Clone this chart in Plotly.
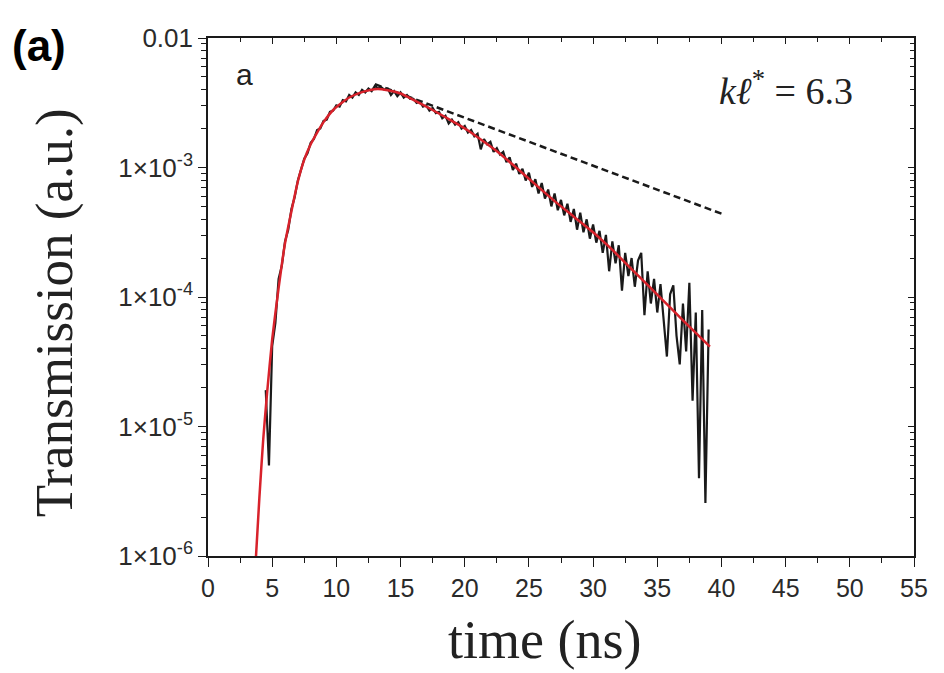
import plotly.graph_objects as go
import numpy as np

# Datos medidos (trazo negro con ruido), paso de 0.25 ns desde 4.5 ns
trans_data = [
    1.91e-5, 5.0e-6, 4.17e-5, 6.31e-5, 1.38e-4, 1.74e-4, 2.69e-4, 3.31e-4,
    4.79e-4, 5.89e-4, 7.94e-4, 9.77e-4, 1.17e-3, 1.29e-3, 1.55e-3, 1.66e-3,
    1.95e-3, 2.00e-3, 2.29e-3, 2.34e-3, 2.69e-3, 2.75e-3, 3.02e-3, 2.95e-3,
    3.31e-3, 3.24e-3, 3.63e-3, 3.47e-3, 3.80e-3, 3.63e-3, 3.98e-3, 3.80e-3,
    4.07e-3, 3.89e-3, 4.27e-3, 4.07e-3, 4.17e-3, 3.98e-3, 4.07e-3, 3.63e-3,
    3.89e-3, 3.55e-3, 3.80e-3, 3.47e-3, 3.63e-3, 3.39e-3, 3.39e-3, 3.16e-3,
    3.24e-3, 2.95e-3, 3.02e-3, 2.75e-3, 2.88e-3, 2.63e-3, 2.69e-3, 2.40e-3,
    2.51e-3, 2.19e-3, 2.34e-3, 2.14e-3, 2.24e-3, 2.00e-3, 2.09e-3, 1.86e-3,
    1.95e-3, 1.74e-3, 1.82e-3, 1.38e-3, 1.66e-3, 1.51e-3, 1.58e-3, 1.32e-3,
    1.41e-3, 1.26e-3, 1.32e-3, 1.10e-3, 1.20e-3, 9.55e-4, 1.07e-3, 8.91e-4,
    9.77e-4, 7.94e-4, 9.12e-4, 7.08e-4, 8.13e-4, 6.31e-4, 7.59e-4, 5.75e-4,
    6.76e-4, 5.01e-4, 6.31e-4, 4.68e-4, 5.62e-4, 4.27e-4, 5.25e-4, 3.80e-4,
    4.79e-4, 3.31e-4, 4.47e-4, 3.16e-4, 3.98e-4, 2.82e-4, 3.63e-4, 2.63e-4,
    3.24e-4, 2.19e-4, 3.02e-4, 1.58e-4, 2.69e-4, 1.82e-4, 2.51e-4, 1.12e-4,
    2.19e-4, 1.45e-4, 2.00e-4, 1.20e-4, 1.91e-4, 2.19e-4, 7.24e-5, 1.58e-4,
    8.91e-5, 1.38e-4, 7.59e-5, 1.26e-4, 6.31e-5, 3.47e-5, 1.05e-4, 1.23e-4,
    5.01e-5, 3.02e-5, 8.91e-5, 3.80e-5, 1.29e-4, 1.58e-5, 7.59e-5, 3.98e-6,
    7.94e-5, 2.57e-6, 5.62e-5,
]
t_data = 4.5 + 0.25 * np.arange(len(trans_data))

# Curva de ajuste (roja)
t_fit = [3.74, 4.0, 4.3, 4.6, 5.0, 5.5, 6.0, 6.5, 7.0, 7.5, 8.0, 8.5, 9.0,
         9.75, 10.5, 11.0, 12.0, 13.2, 14.0, 15.0, 16.0, 17.5, 19.0, 20.2,
         21.5, 22.7, 24.0, 25.5, 27.0, 28.5, 30.0, 31.5, 33.0, 34.5, 36.0,
         37.5, 39.1]
trans_fit = [1.0e-6, 2.8e-6, 7.9e-6, 1.8e-5, 4.7e-5, 1.17e-4, 2.6e-4, 4.6e-4,
             7.8e-4, 1.15e-3, 1.51e-3, 1.86e-3, 2.24e-3, 2.78e-3, 3.2e-3,
             3.47e-3, 3.82e-3, 4.04e-3, 3.95e-3, 3.73e-3, 3.33e-3, 2.78e-3,
             2.29e-3, 1.95e-3, 1.58e-3, 1.29e-3, 1.0e-3, 7.4e-4, 5.5e-4,
             4.17e-4, 3.16e-4, 2.31e-4, 1.64e-4, 1.17e-4, 8.3e-5, 5.9e-5,
             4.13e-5]

# Recta de difusión (discontinua)
t_dash = [13.0, 40.0]
trans_dash = [4.4e-3, 4.4e-4]

x_ticks = list(range(0, 56, 5))
y_ticks = [1e-6, 1e-5, 1e-4, 1e-3, 1e-2]
y_ticktext = ["1×10<sup>-6</sup>", "1×10<sup>-5</sup>", "1×10<sup>-4</sup>",
              "1×10<sup>-3</sup>", "0.01"]

fig = go.Figure()

fig.add_trace(go.Scatter(
    x=t_data, y=trans_data, mode="lines",
    line=dict(color="#1a1a1a", width=2.2),
    showlegend=False, hoverinfo="skip"
))

fig.add_trace(go.Scatter(
    x=t_dash, y=trans_dash, mode="lines",
    line=dict(color="#1a1a1a", width=2.5, dash="7px,4px"),
    showlegend=False
))

fig.add_trace(go.Scatter(
    x=t_fit, y=trans_fit, mode="lines",
    line=dict(color="#d8222b", width=2.5, shape="spline", smoothing=0.6),
    showlegend=False
))

# Ejes espejo (arriba y derecha) con marcas hacia dentro
fig.add_trace(go.Scatter(x=[None], y=[None], xaxis="x2", yaxis="y2",
                         showlegend=False, hoverinfo="skip"))

tick_font = dict(family="Liberation Sans, Arial", size=25, color="#2a2a2a")
axis_common = dict(showgrid=False, zeroline=False, showline=True,
                   linecolor="#1a1a1a", linewidth=1.6, tickcolor="#1a1a1a",
                   tickwidth=1.4)

# la página añade 8 px de margen al cuerpo: figura 936x665
fig.update_layout(
    width=936, height=665,
    margin=dict(l=200, r=30, t=30, b=117, autoexpand=False),
    paper_bgcolor="white", plot_bgcolor="white",
    xaxis=dict(range=[0, 55], tickvals=x_ticks, ticks="outside", ticklen=9,
               tickfont=tick_font,
               minor=dict(dtick=2.5, ticks="outside", ticklen=5,
                          tickcolor="#1a1a1a", tickwidth=1.2),
               **axis_common),
    yaxis=dict(type="log", range=[-6, -2], tickvals=y_ticks,
               ticktext=y_ticktext, ticks="outside", ticklen=8,
               tickfont=dict(family="Liberation Sans, Arial", size=26,
                             color="#2a2a2a"),
               minor=dict(dtick="D1", ticks="outside", ticklen=5,
                          tickcolor="#1a1a1a", tickwidth=1.2),
               **axis_common),
    xaxis2=dict(overlaying="x", side="top", range=[0, 55], tickvals=x_ticks,
                ticks="inside", ticklen=6, showticklabels=False,
                minor=dict(dtick=2.5, ticks="inside", ticklen=4,
                           tickcolor="#1a1a1a"),
                **axis_common),
    yaxis2=dict(overlaying="y", side="right", type="log", range=[-6, -2],
                tickvals=y_ticks, ticks="inside", ticklen=6,
                showticklabels=False,
                minor=dict(dtick="D1", ticks="inside", ticklen=4,
                           tickcolor="#1a1a1a"),
                **axis_common),
)

ann = dict(xref="paper", yref="paper", showarrow=False,
           xanchor="center", yanchor="middle")
fig.add_annotation(text="<b>(a)</b>", x=-0.239, y=0.986,
                   font=dict(family="Liberation Sans, Arial", size=44,
                             color="black"), **ann)
fig.add_annotation(text="a", x=0.052, y=0.929,
                   font=dict(family="Liberation Sans, Arial", size=30,
                             color="#222"), **ann)
fig.add_annotation(text="<i>kℓ</i><sup>*</sup> = 6.3", x=0.819, y=0.903,
                   font=dict(family="Liberation Serif, Times New Roman",
                             size=38, color="#222"), **ann)
fig.add_annotation(text="time (ns)", x=0.476, y=-0.162,
                   font=dict(family="Liberation Serif, Times New Roman",
                             size=54, color="#222"), **ann)
fig.add_annotation(text="Transmission (a.u.)", x=-0.218, y=0.469,
                   textangle=-90,
                   font=dict(family="Liberation Serif, Times New Roman",
                             size=53, color="#222"), **ann)

fig.write_html("out.html")
